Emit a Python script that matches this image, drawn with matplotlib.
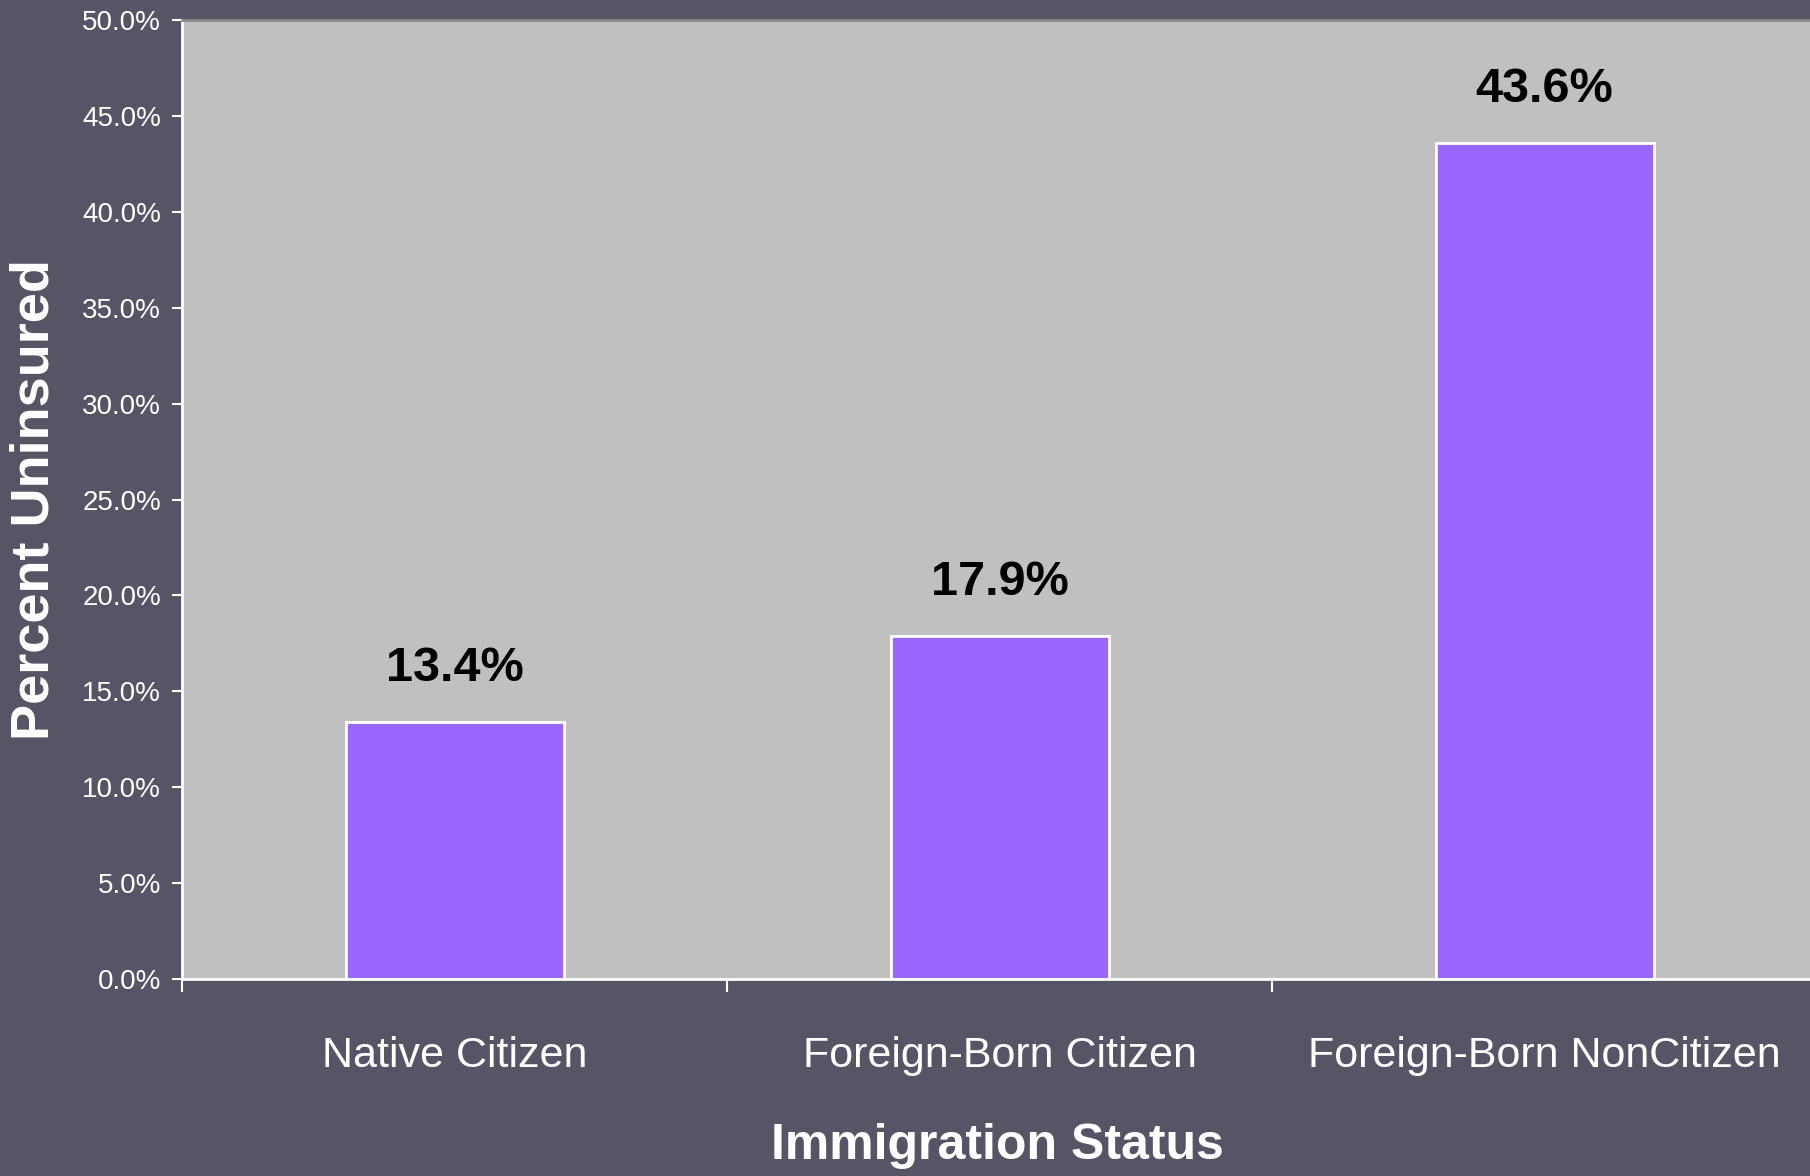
import matplotlib.pyplot as plt
from matplotlib.ticker import FuncFormatter

categories = ["Native Citizen", "Foreign-Born Citizen", "Foreign-Born NonCitizen"]
pct_uninsured = [13.4, 17.9, 43.6]
value_labels = ["13.4%", "17.9%", "43.6%"]
yticks = [0, 5, 10, 15, 20, 25, 30, 35, 40, 45, 50]

bg = "#555566"
font = ["Liberation Sans", "DejaVu Sans"]

fig = plt.figure(figsize=(18.1, 11.76), dpi=100, facecolor=bg)
ax = fig.add_axes([182 / 1810, 1 - 979 / 1176, 1 - 182 / 1810, (979 - 20) / 1176])
ax.set_facecolor("#c0c0c0")

x = range(len(categories))
bars = ax.bar(x, pct_uninsured, width=0.4, color="#9966ff", edgecolor="white", linewidth=2)

for b, lab in zip(bars, value_labels):
    ax.annotate(lab, (b.get_x() + b.get_width() / 2, b.get_height()),
                xytext=(0, 22), textcoords="offset points", ha="center", va="bottom",
                fontsize=35, fontweight="bold", family=font, color="black")

ax.set_xlim(-0.5, 2.487)
ax.set_ylim(0, 50)
ax.set_yticks(yticks)
ax.yaxis.set_major_formatter(FuncFormatter(lambda v, p: "%.1f%%" % v))
ax.set_xticks([-0.5, 0.5, 1.5])
ax.set_xticklabels([])
ax.set_xticks(list(x), minor=True)
ax.set_xticklabels(categories, minor=True, fontsize=31, family=font, color="white")
ax.tick_params(axis="x", which="major", length=9, width=1.5, color="white", direction="out")
ax.tick_params(axis="x", which="minor", length=0, pad=41)
ax.tick_params(axis="y", length=7, width=1.5, color="white", pad=8, labelsize=20, labelcolor="white")
for t in ax.get_yticklabels():
    t.set_family(font)

for side in ["left", "bottom"]:
    ax.spines[side].set_color("white")
    ax.spines[side].set_linewidth(2)
ax.spines["top"].set_color("#888888")
ax.spines["top"].set_linewidth(2)
ax.spines["right"].set_visible(False)

fig.text(35 / 1810, 1 - 500 / 1176, "Percent Uninsured", rotation=90, ha="center", va="center",
         fontsize=39, fontweight="bold", family=font, color="white")
fig.text(997 / 1810, 1 - 1146 / 1176, "Immigration Status", ha="center", va="center",
         fontsize=36, fontweight="bold", family=font, color="white")

fig.savefig("out.png", dpi=100, facecolor=bg)
